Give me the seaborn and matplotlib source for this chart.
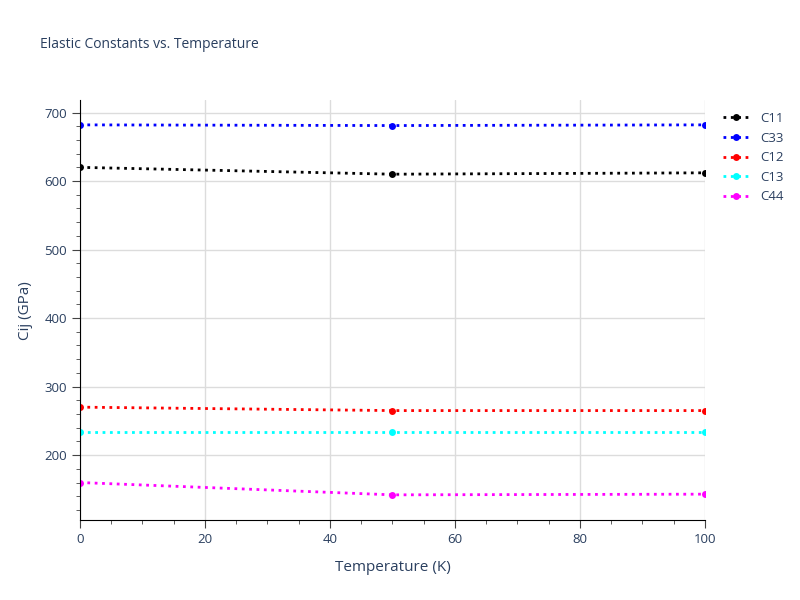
import pandas as pd
import matplotlib.pyplot as plt
import seaborn as sns
from matplotlib.ticker import MultipleLocator

temperature = [0, 50, 100]
c11 = [620, 610, 612]
c33 = [682, 681, 682]
c12 = [270, 265, 265]
c13 = [234, 234, 234]
c44 = [160, 142, 143]

series = {'C11': c11, 'C33': c33, 'C12': c12, 'C13': c13, 'C44': c44}
colors = {'C11': 'black', 'C33': 'blue', 'C12': 'red', 'C13': 'cyan', 'C44': 'magenta'}

rows = []
for name, vals in series.items():
    for t, v in zip(temperature, vals):
        rows.append({'Temperature': t, 'Cij': v, 'name': name})
df = pd.DataFrame(rows)

sns.set_style('white')
plt.rcParams['font.family'] = ['Open Sans', 'DejaVu Sans']
fig = plt.figure(figsize=(8, 6), dpi=100)
ax = fig.add_axes([0.1, 0.133, 0.781, 0.70])

for name in series:
    d = df[df['name'] == name]
    sns.lineplot(data=d, x='Temperature', y='Cij', ax=ax, color=colors[name],
                 linestyle=':', linewidth=2, marker='o', markersize=5,
                 markeredgewidth=0, label=name)

ax.set_xlim(0, 100)
ax.set_ylim(105, 718)
ax.set_xticks([0, 20, 40, 60, 80, 100])
ax.set_yticks([200, 300, 400, 500, 600, 700])
ax.xaxis.set_minor_locator(MultipleLocator(5))
ax.yaxis.set_minor_locator(MultipleLocator(20))
ax.grid(True, which='major', color='#dcdcdc', linewidth=1)
for s in ['top', 'right']:
    ax.spines[s].set_visible(False)
for s in ['left', 'bottom']:
    ax.spines[s].set_color('black')
ax.tick_params(which='both', direction='out', colors='#444444', labelcolor='#2a3f5f', labelsize=9.5)
ax.tick_params(which='major', length=6, left=True, bottom=True)
ax.tick_params(which='minor', length=3, left=True, bottom=True)
ax.set_xlabel('Temperature (K)', color='#2a3f5f', fontsize=11, labelpad=10)
ax.set_ylabel('Cij (GPa)', color='#2a3f5f', fontsize=11, labelpad=8)
fig.text(0.05, 0.92, 'Elastic Constants vs. Temperature', color='#2a3f5f', fontsize=10)
leg = ax.legend(loc='upper left', bbox_to_anchor=(1.01, 1.0), frameon=False, fontsize=9.5)
for t in leg.get_texts():
    t.set_color('#2a3f5f')

fig.savefig('out.png')
